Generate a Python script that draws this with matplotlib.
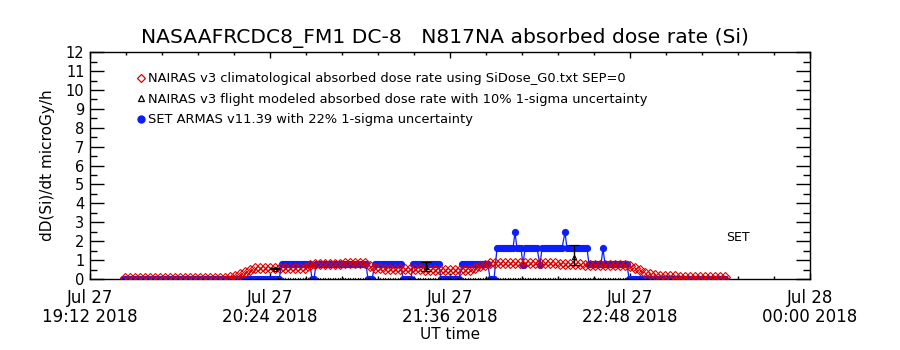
import matplotlib
matplotlib.use('Agg')
import matplotlib.pyplot as plt
import numpy as np
from matplotlib.lines import Line2D
from matplotlib.ticker import FixedLocator, MultipleLocator

# ---------------- data (x in minutes after Jul 27 19:12 UT) ----------------
x_tick_minutes = [0, 72, 144, 216, 288]
x_tick_labels = ["Jul 27\n19:12 2018", "Jul 27\n20:24 2018", "Jul 27\n21:36 2018",
                 "Jul 27\n22:48 2018", "Jul 28\n00:00 2018"]
y_ticks = list(range(0, 13))

# NAIRAS climatological dose rate, one value every 2 minutes from minute 14
clim_start = 14
clim_step = 2
clim_values = [
    0.07, 0.07, 0.07, 0.07, 0.07, 0.07, 0.07, 0.07, 0.07, 0.07, 0.07,
    0.07, 0.07, 0.07, 0.07, 0.07, 0.07, 0.07, 0.07, 0.07, 0.07,
    0.08, 0.15, 0.27, 0.38, 0.50, 0.56,
    0.57, 0.58, 0.58, 0.57, 0.57, 0.58, 0.58, 0.57, 0.58, 0.60,
    0.72, 0.78,
    0.78, 0.79, 0.80, 0.80, 0.81, 0.82, 0.83, 0.84, 0.85,
    0.82, 0.70, 0.60, 0.56,
    0.55, 0.55, 0.54, 0.54, 0.53, 0.52, 0.52, 0.51, 0.50, 0.50, 0.50,
    0.49, 0.48, 0.48, 0.47, 0.47, 0.48, 0.50,
    0.56, 0.66, 0.76, 0.82,
    0.84, 0.85, 0.85, 0.86, 0.86, 0.85, 0.85, 0.86, 0.85, 0.84, 0.84,
    0.83, 0.82, 0.81, 0.80, 0.79, 0.78, 0.77,
    0.76, 0.75, 0.74, 0.73, 0.72, 0.72, 0.72, 0.72, 0.72,
    0.68, 0.56, 0.45, 0.34, 0.25, 0.20, 0.17, 0.15, 0.14, 0.13, 0.12,
    0.11, 0.10, 0.10, 0.10, 0.09, 0.09, 0.08, 0.08, 0.08,
]

# SET ARMAS record as constant-level steps: start minute, end minute, level
set_step_start = [13.2, 76.8, 88.8, 90.4, 111.2, 114.0, 125.2, 129.2, 140.4, 148.8,
                  160.0, 162.8, 170.0, 170.8, 173.2, 174.0, 180.0, 180.8, 190.0,
                  190.8, 199.6, 205.2, 206.0, 215.6]
set_step_end = [76.0, 88.0, 89.6, 110.4, 113.2, 124.4, 128.4, 139.6, 148.0, 159.2,
                162.0, 169.2, 170.0, 172.4, 173.2, 179.2, 180.0, 189.2, 190.0,
                198.8, 204.4, 205.2, 214.8, 254.0]
set_step_level = [0.0, 0.77, 0.0, 0.77, 0.0, 0.77, 0.0, 0.77, 0.0, 0.77,
                  0.0, 1.62, 2.47, 1.62, 0.75, 1.62, 0.75, 1.62, 2.47,
                  1.62, 0.77, 1.62, 0.77, 0.0]
set_cadence = 0.8

# NAIRAS flight-modeled: zero-valued span plus points with uncertainty
flight_zero_span = (75.0, 215.0)
flight_cadence = 1.0
flight_t = [74.0, 134.4, 193.6]
flight_v = [0.55, 0.62, 1.14]
flight_err_lo = [0.04, 0.22, 0.42]
flight_err_hi = [0.04, 0.30, 0.64]

labels = [
    "NAIRAS v3 climatological absorbed dose rate using SiDose_G0.txt SEP=0",
    "NAIRAS v3 flight modeled absorbed dose rate with 10% 1-sigma uncertainty",
    "SET ARMAS v11.39 with 22% 1-sigma uncertainty",
]

RED = '#e00000'
BLUE = '#0a1eff'

# ---------------- figure ----------------
plt.rcParams['font.family'] = ['DejaVu Sans']
fig = plt.figure(figsize=(9, 3.5), dpi=100)
ax = fig.add_axes([0.1, 0.203, 0.8, 0.648])

# SET ARMAS
set_t, set_v = [], []
for s, e, lv in zip(set_step_start, set_step_end, set_step_level):
    tt = np.arange(s, e + 0.01, set_cadence)
    set_t.extend(tt)
    set_v.extend([lv] * len(tt))
ax.plot(set_t, set_v, color=BLUE, lw=0.9, marker='o', ms=5.2, mew=0,
        zorder=2)

# climatological
clim_t = clim_start + clim_step * np.arange(len(clim_values))
ax.plot(clim_t, clim_values, ls='none', marker='D', mfc='none', mec=RED,
        ms=4.6, mew=0.8, zorder=3)
ax.plot(clim_t, clim_values, ls='none', marker='x', color=RED,
        ms=3.6, mew=0.7, zorder=3)

# flight modeled
fz = np.arange(flight_zero_span[0], flight_zero_span[1] + 0.01, flight_cadence)
ax.plot(fz, [0.0] * len(fz), ls='none', marker='^', color='black', ms=2.8,
        mew=0, zorder=4)
ax.errorbar(flight_t, flight_v, yerr=[flight_err_lo, flight_err_hi], fmt='^',
            color='black', ms=3, mfc='none', mew=0.8, elinewidth=1.0,
            capsize=3.5, capthick=1.0, zorder=5)

ax.text(259, 2.2, "SET", fontsize=9, ha='center', va='center')

# axes
ax.set_xlim(0, 288)
ax.set_ylim(0, 12)
ax.xaxis.set_major_locator(FixedLocator(x_tick_minutes))
ax.set_xticklabels(x_tick_labels, fontsize=12, linespacing=1.05)
ax.xaxis.set_minor_locator(MultipleLocator(14.4))
ax.yaxis.set_major_locator(FixedLocator(y_ticks))
ax.set_yticklabels([str(v) for v in y_ticks], fontsize=10.5)
ax.yaxis.set_minor_locator(MultipleLocator(0.5))
ax.tick_params(axis='x', which='major', direction='in', length=4.5, width=1,
               top=True, pad=7.5)
ax.tick_params(axis='x', which='minor', direction='in', length=2.2, width=1,
               top=True)
ax.tick_params(axis='y', which='major', direction='in', length=10, width=1,
               right=True, pad=4)
ax.tick_params(axis='y', which='minor', direction='in', length=5, width=1,
               right=True)
for sp in ax.spines.values():
    sp.set_linewidth(1.0)

ax.set_ylabel("dD(Si)/dt microGy/h", fontsize=11, labelpad=8)
ax.set_xlabel("UT time", fontsize=11, labelpad=1.0)

fig.text(0.494, 0.89, "NASAAFRCDC8_FM1 DC-8   N817NA absorbed dose rate (Si)",
         fontsize=14.6, ha='center', va='center')

handles = [
    Line2D([], [], ls='none', marker='D', mfc='none', mec=RED, ms=4.5, mew=0.9),
    Line2D([], [], ls='none', marker='^', mfc='none', mec='black', ms=4.5, mew=0.9),
    Line2D([], [], ls='none', marker='o', color=BLUE, ms=5),
]
ax.legend(handles, labels, loc='upper left', bbox_to_anchor=(0.064, 0.911),
          frameon=False, fontsize=9.4, handlelength=0.8, handletextpad=0.15,
          labelspacing=0.57, borderaxespad=0, borderpad=0)

fig.savefig('out.png', dpi=100)
